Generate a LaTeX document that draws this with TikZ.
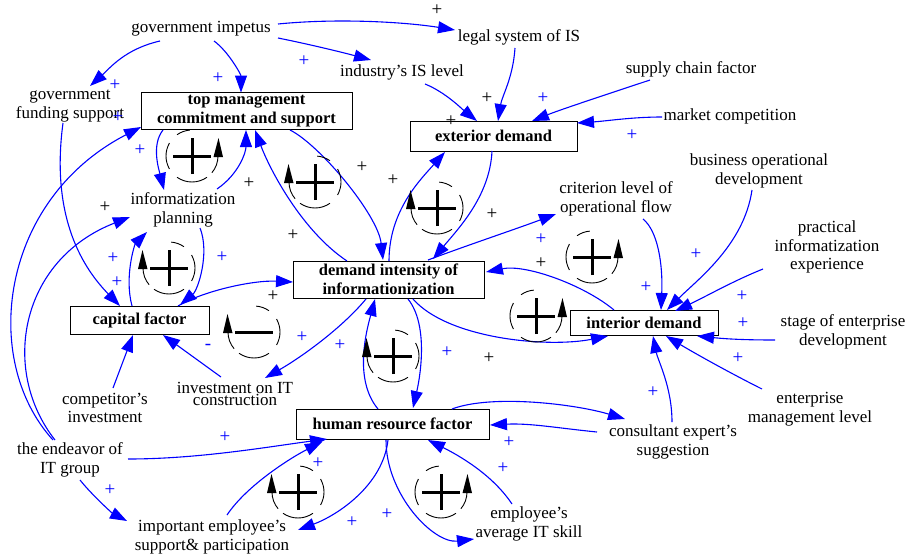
\documentclass[tikz,border=0pt]{standalone}
\usepackage{fontspec}
\setmainfont{Liberation Serif}
\usetikzlibrary{arrows.meta}
\newcommand\cldloop[4]{%
  \begin{scope}[shift={(#1,#2)}]
    \begin{scope}[xscale=#4]
      \draw[line width=0.9pt] (95:26pt) arc[start angle=95,end angle=125,radius=26pt];
      \draw[line width=0.9pt] (150:26pt) arc[start angle=150,end angle=210,radius=26pt];
      \draw[line width=0.9pt] (235:26pt) arc[start angle=235,end angle=305,radius=26pt];
      \draw[line width=0.9pt] (320:26pt) arc[start angle=320,end angle=360,radius=26pt];
      \fill (21.5pt,-1pt) -- (31pt,-1pt) -- (26.5pt,18pt) -- cycle;
    \end{scope}
    \draw[line width=3pt] (-19pt,0pt) -- (19pt,0pt);
    \ifnum#3=1 \draw[line width=3pt] (0pt,-18pt) -- (0pt,18pt);\fi
  \end{scope}}
\begin{document}
\begin{tikzpicture}[x=1pt,y=-1pt,
  lbl/.style={align=center,inner sep=0pt,font=\fontsize{17}{18.5}\selectfont},
  box/.style={draw,line width=0.9pt,inner sep=0pt,align=center,font=\fontsize{16.5}{19}\selectfont\bfseries},
  conn/.style={blue,line width=1.1pt,-{Triangle[length=17pt,width=12pt]}},
  pb/.style={text=blue,font=\fontsize{19}{19}\selectfont,inner sep=0pt},
  pk/.style={text=black,font=\fontsize{19}{19}\selectfont,inner sep=0pt},
]
\useasboundingbox (0,0) rectangle (911,555);
% text variables
\node[lbl] (gi) at (201,29) {government impetus};
\node[lbl] (gfs) at (70,106) {government\\funding support};
\node[lbl] (lsi) at (519,37) {legal system of IS};
\node[lbl] (iil) at (402,72) {industry's IS level};
\node[lbl] (scf) at (691,69) {supply chain factor};
\node[lbl] (mc) at (730,116) {market competition};
\node[lbl] (bod) at (759,171) {business operational\\development};
\node[lbl] (clo) at (616,199) {criterion level of\\operational flow};
\node[lbl] (pie) at (827,247) {practical\\informatization\\experience};
\node[lbl] (sed) at (843,332) {stage of enterprise\\development};
\node[lbl] (eml) at (810,409) {enterprise\\management level};
\node[lbl] (ces) at (673,442) {consultant expert's\\suggestion};
\node[lbl] (eas) at (529,524) {employee's\\average IT skill};
\node[lbl] (ies) at (212,537) {important employee's\\support\& participation};
\node[lbl] (eit) at (70,460) {the endeavor of\\IT group};
\node[lbl] (ci) at (105,408) {competitor's\\investment};
\node[lbl,font=\fontsize{17}{12.5}\selectfont] (iic) at (235,394) {investment on IT\\construction};
\node[lbl] (ip) at (183,210) {informatization\\planning};
% boxed variables
\node[box,minimum width=211pt,minimum height=37pt] (tm) at (246.5,111) {top management\\commitment and support};
\node[box,minimum width=167pt,minimum height=30pt] (ed) at (493.5,136) {exterior demand};
\node[box,minimum width=191pt,minimum height=37pt] (di) at (388.5,279.5) {demand intensity of\\informationization};
\node[box,minimum width=139pt,minimum height=28pt] (cf) at (139.5,320) {capital factor};
\node[box,minimum width=148pt,minimum height=25pt] (id) at (644,322.5) {interior demand};
\node[box,minimum width=193pt,minimum height=30pt] (hr) at (392.5,424) {human resource factor};
% connectors
\draw[conn] ([shift={(-41,12)}]gi.center) .. controls +(-35,8) and +(20,-18) .. ([shift={(20,-20)}]gfs.center);
\draw[conn] ([shift={(13,12)}]gi.center) .. controls +(14,10) and +(0,-18) .. ([shift={(-5.5,-18.5)}]tm.center);
\draw[conn] ([shift={(77,-5)}]gi.center) .. controls +(60,-6) and +(-50,-8) .. ([shift={(-64,-7)}]lsi.center);
\draw[conn] ([shift={(77,9)}]gi.center) .. controls +(30,6) and +(-30,-8) .. ([shift={(-31,-12)}]iil.center);
\draw[conn] ([shift={(23,12)}]iil.center) .. controls +(20,8) and +(-15,-12) .. ([shift={(-16.5,-15)}]ed.center);
\draw[conn] ([shift={(-4,11)}]lsi.center) .. controls +(-2,30) and +(4,-25) .. ([shift={(4.5,-15)}]ed.center);
\draw[conn] ([shift={(-41,11)}]scf.center) .. controls +(-30,10) and +(30,-12) .. ([shift={(38.5,-15)}]ed.center);
\draw[conn] ([shift={(-68,1)}]mc.center) .. controls +(-30,0) and +(30,-2) .. ([shift={(83.5,-13)}]ed.center);
\draw[conn] ([shift={(-1.5,15)}]ed.center) .. controls +(-2,45) and +(25,-30) .. ([shift={(44.5,-20.5)}]di.center);
\draw[conn] ([shift={(0.5,-18.5)}]di.center) .. controls +(0,-50) and +(-25,28) .. ([shift={(-48.5,16)}]ed.center);
\draw[conn] ([shift={(39.5,-19.5)}]di.center) .. controls +(40,-15) and +(-40,15) .. ([shift={(-60,15)}]clo.center);
\draw[conn] ([shift={(27,20)}]clo.center) .. controls +(15,12) and +(2,-45) .. ([shift={(17,-12.5)}]id.center);
\draw[conn] ([shift={(-7,19)}]bod.center) .. controls +(-8,55) and +(30,-30) .. ([shift={(23,-12.5)}]id.center);
\draw[conn] ([shift={(-64,22)}]pie.center) .. controls +(-30,12) and +(30,-14) .. ([shift={(31,-11.5)}]id.center);
\draw[conn] ([shift={(-68,8)}]sed.center) .. controls +(-30,0) and +(30,3) .. ([shift={(53,13.5)}]id.center);
\draw[conn] ([shift={(-48,-20)}]eml.center) .. controls +(-30,-15) and +(30,18) .. ([shift={(22,13.5)}]id.center);
\draw[conn] ([shift={(-1,-20)}]ces.center) .. controls +(0,-35) and +(5,25) .. ([shift={(9,13.5)}]id.center);
\draw[conn] ([shift={(-30,-12.5)}]id.center) .. controls +(-30,-25) and +(40,-8) .. ([shift={(97.5,-7.5)}]di.center);
\draw[conn] ([shift={(24.5,19.5)}]di.center) .. controls +(35,40) and +(-60,12) .. ([shift={(-36,13.5)}]id.center);
\draw[conn] ([shift={(-83.5,19)}]tm.center) .. controls +(-12,15) and +(-5,-20) .. ([shift={(-19,-20)}]ip.center);
\draw[conn] ([shift={(34,-21)}]ip.center) .. controls +(22,-15) and +(0,22) .. ([shift={(-0.5,19)}]tm.center);
\draw[conn] ([shift={(-41.5,-18.5)}]di.center) .. controls +(-45,-30) and +(15,40) .. ([shift={(8.5,19)}]tm.center);
\draw[conn] ([shift={(43.5,19)}]tm.center) .. controls +(30,15) and +(-5,-45) .. ([shift={(-5.5,-19.5)}]di.center);
\draw[conn] ([shift={(-17,-20)}]eit.center) .. controls +(-73,-80) and +(-141,73) .. ([shift={(-105.5,16)}]tm.center);
\draw[conn] ([shift={(-15,-20)}]eit.center) .. controls +(-55,-70) and +(-110,43) .. ([shift={(-53,7)}]ip.center);
\draw[conn] ([shift={(-7,17)}]gfs.center) .. controls +(-13,97) and +(-35,-36) .. ([shift={(-19.5,-14)}]cf.center);
\draw[conn] ([shift={(-7.5,-14)}]cf.center) .. controls +(-8,-30) and +(-12,12) .. ([shift={(-36,22)}]ip.center);
\draw[conn] ([shift={(17,18)}]ip.center) .. controls +(10,25) and +(18,-15) .. ([shift={(40.5,-15)}]cf.center);
\draw[conn] ([shift={(38.5,-14)}]cf.center) .. controls +(25,-15) and +(-40,-2) .. ([shift={(-95.5,2.5)}]di.center);
\draw[conn] ([shift={(8,-20)}]ci.center) -- ([shift={(-6.5,15)}]cf.center);
\draw[conn] ([shift={(-14,-17)}]iic.center) -- ([shift={(23.5,15)}]cf.center);
\draw[conn] ([shift={(-22.5,19.5)}]di.center) .. controls +(-25,30) and +(35,-20) .. ([shift={(30,-16)}]iic.center);
\draw[conn] ([shift={(-14.5,-15)}]hr.center) .. controls +(-25,-30) and +(-8,30) .. ([shift={(-13.5,19.5)}]di.center);
\draw[conn] ([shift={(19.5,19.5)}]di.center) .. controls +(20,25) and +(8,-35) .. ([shift={(20.5,-16)}]hr.center);
\draw[conn] ([shift={(58,-1)}]eit.center) .. controls +(70,0) and +(-60,8) .. ([shift={(-65.5,15)}]hr.center);
\draw[conn] ([shift={(15,-22)}]ies.center) .. controls +(20,-30) and +(-30,15) .. ([shift={(-70.5,18)}]hr.center);
\draw[conn] ([shift={(10,20)}]eit.center) .. controls +(12,15) and +(-15,-8) .. ([shift={(-85,-16)}]ies.center);
\draw[conn] ([shift={(-4.5,16)}]hr.center) .. controls +(-5,45) and +(40,-15) .. ([shift={(86,-7)}]ies.center);
\draw[conn] ([shift={(-6.5,16)}]hr.center) .. controls +(0,55) and +(-40,5) .. ([shift={(-55,15)}]eas.center);
\draw[conn] ([shift={(-17,-20)}]eas.center) .. controls +(-20,-30) and +(30,15) .. ([shift={(35.5,16)}]hr.center);
\draw[conn] ([shift={(-76,-10)}]ces.center) .. controls +(-40,-4) and +(40,-2) .. ([shift={(97.5,1)}]hr.center);
\draw[conn] ([shift={(59.5,-15)}]hr.center) .. controls +(40,-15) and +(-50,-15) .. ([shift={(-48,-23)}]ces.center);
% loop markers
\cldloop{192}{156}{1}{1}
\cldloop{315}{182}{1}{-1}
\cldloop{437}{208}{1}{-1}
\cldloop{592}{257}{1}{1}
\cldloop{536}{316}{1}{1}
\cldloop{169}{268}{1}{-1}
\cldloop{254}{332}{0}{-1}
\cldloop{393}{356}{1}{-1}
\cldloop{298}{492}{1}{-1}
\cldloop{441}{492}{1}{1}
% polarity signs
\node[pb] (s1) at (115,85) {+};
\node[pb] (s2) at (218,78) {+};
\node[pb] (s3) at (304,61) {+};
\node[pb] (s4) at (543,98) {+};
\node[pb] (s5) at (632,135) {+};
\node[pb] (s6) at (140,150) {+};
\node[pb] (s7) at (118,117) {+};
\node[pb] (s8) at (113,258) {+};
\node[pb] (s9) at (117,282) {+};
\node[pb] (s10) at (222,257) {+};
\node[pb] (s11) at (208,347) {-};
\node[pb] (s12) at (302,337) {+};
\node[pb] (s13) at (340,345) {+};
\node[pb] (s14) at (447,352) {+};
\node[pb] (s15) at (225,437) {+};
\node[pb] (s16) at (110,490) {+};
\node[pb] (s17) at (318,463) {+};
\node[pb] (s18) at (352,522) {+};
\node[pb] (s19) at (387,514) {+};
\node[pb] (s20) at (503,468) {+};
\node[pb] (s21) at (509,442) {+};
\node[pb] (s22) at (541,239) {+};
\node[pb] (s23) at (646,287) {+};
\node[pb] (s24) at (696,254) {+};
\node[pb] (s25) at (742,296) {+};
\node[pb] (s26) at (743,323) {+};
\node[pb] (s27) at (738,358) {+};
\node[pb] (s28) at (653,392) {+};
\node[pk] (k1) at (437,10) {+};
\node[pk] (k2) at (487,98) {+};
\node[pk] (k3) at (451,121) {+};
\node[pk] (k4) at (249,183) {+};
\node[pk] (k5) at (293,235) {+};
\node[pk] (k6) at (362,167) {+};
\node[pk] (k7) at (393,180) {+};
\node[pk] (k8) at (492,214) {+};
\node[pk] (k9) at (273,296) {+};
\node[pk] (k10) at (105,207) {+};
\node[pk] (k11) at (541,263) {+};
\node[pk] (k12) at (489,358) {+};
\end{tikzpicture}
\end{document}
